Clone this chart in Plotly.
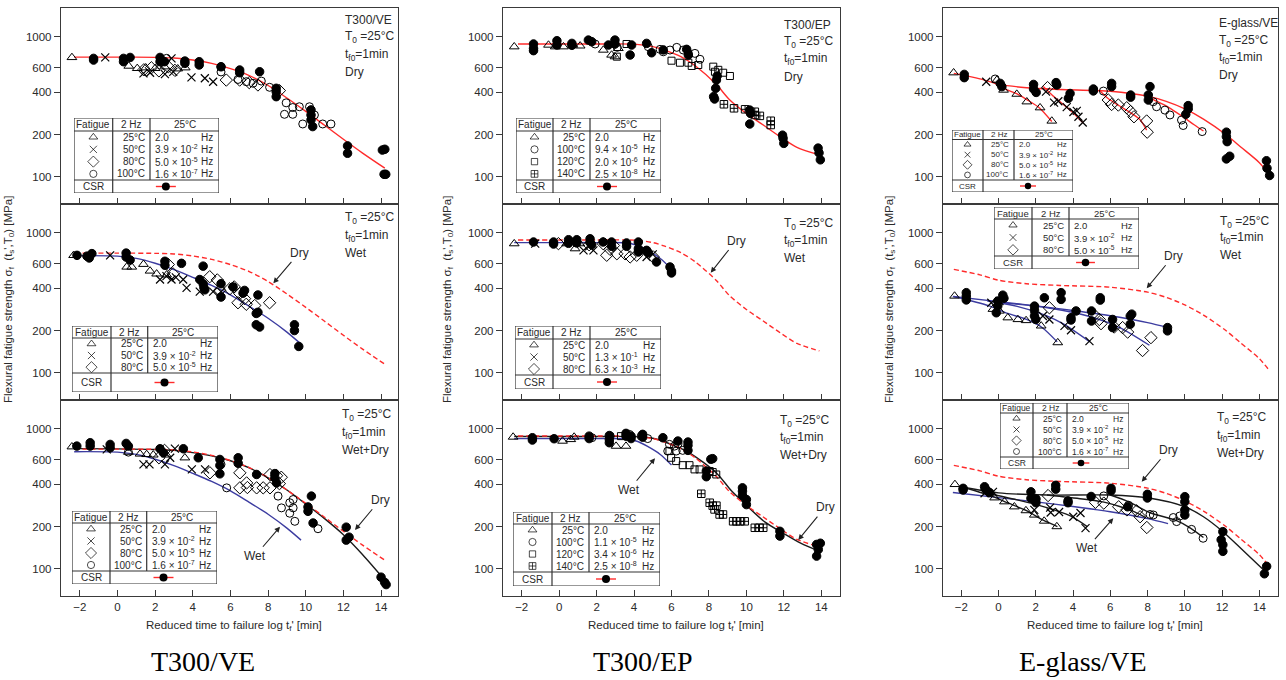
import plotly.graph_objects as go

W, H = 1286, 680

X_TICKS = [-2, 0, 2, 4, 6, 8, 10, 12, 14]
Y_TICKS = [100, 200, 400, 600, 1000]
COLUMN_NAMES = ["T300/VE", "T300/EP", "E-glass/VE"]

# ---------------- T300/VE ----------------
VE_DRY_CURVE = [(-2.3, 715), (0, 715), (2, 712), (3, 705), (4, 682), (5, 645), (6, 592), (7, 528),
                (8, 448), (9, 365), (10, 293), (11, 233), (12, 185), (13, 148), (14.2, 115)]
VE_WET_CURVE = [(-2.3, 685), (0, 680), (1, 655), (2, 605), (3, 545), (4, 480), (5, 420), (6, 360),
                (7, 298), (8, 245), (9, 195), (9.75, 160)]
VE_WETDRY_CURVE = [(-2.3, 720), (0, 718), (2, 710), (3, 700), (4, 675), (5, 640), (6, 590), (7, 525),
                   (8, 445), (9, 365), (10, 290), (11, 228), (12, 175), (13, 127), (14.3, 80)]

VE_D_TRI = [(-2.42, 711), (0.6, 617), (1.05, 594), (1.5, 600), (2.0, 594), (2.5, 610), (3.2, 590), (3.6, 600)]
VE_D_X = [(-0.65, 711), (1.38, 547), (1.73, 553), (2.52, 541), (2.96, 560), (2.87, 700), (3.93, 512),
          (4.64, 505), (5.08, 477)]
VE_D_DIA = [(1.4, 580), (1.8, 600), (2.2, 570), (2.7, 610), (3.05, 575), (5.78, 490), (6.49, 490),
            (7.0, 470), (7.46, 452), (8.6, 412)]
VE_D_CIR = [(2.6, 700), (5.5, 610), (5.5, 560), (6.4, 495), (6.84, 477), (7.2, 465), (7.64, 482), (8.08, 435),
            (8.96, 337), (9.31, 312), (8.87, 279), (9.31, 279), (9.66, 316), (9.84, 238), (10.2, 316),
            (10.46, 276), (10.9, 238), (11.34, 238)]
VE_D_CSR = [(-1.27, 700), (-1.27, 681), (0.32, 700), (0.32, 663), (0.67, 711), (2.26, 711), (2.26, 663),
            (2.5, 663), (3.58, 670), (3.58, 645), (4.34, 663), (4.34, 628), (5.5, 610), (6.49, 578),
            (6.49, 553), (7.55, 562), (8.43, 428), (8.43, 405), (8.43, 373), (10.28, 300), (10.28, 276),
            (10.28, 255), (10.37, 228), (12.22, 166), (12.22, 147), (14.07, 155), (14.2, 157), (14.16, 104),
            (14.25, 104)]

VE_W_TRI = [(-2.33, 689), (0.49, 569), (0.76, 569), (1.38, 595), (1.73, 533), (2.08, 508), (2.61, 500)]
VE_W_X = [(-0.39, 689), (2.26, 463), (2.6, 490), (2.87, 463), (3.1, 480), (3.49, 463), (3.67, 404),
          (4.37, 379), (5.08, 379), (5.5, 379)]
VE_W_DIA = [(2.7, 592), (2.95, 508), (4.9, 485), (5.3, 460), (5.43, 388), (5.96, 397), (6.2, 410), (6.49, 368),
            (6.4, 316), (6.75, 338), (6.84, 308), (7.29, 302), (8.08, 316)]
VE_W_CSR = [(-2.15, 689), (-1.62, 680), (-1.36, 709), (-1.5, 660), (0.46, 715), (0.46, 670), (0.67, 638),
            (2.52, 625), (2.52, 585), (3.4, 604), (4.55, 577), (4.37, 463), (4.55, 432), (4.59, 406),
            (4.64, 391), (5.5, 432), (5.5, 347), (6.14, 410), (6.75, 387), (6.67, 370), (7.46, 359),
            (7.37, 265), (7.46, 270), (7.37, 220), (7.55, 212), (9.4, 220), (9.4, 200), (9.63, 154)]

VE_WD_TRI = [(-2.42, 743), (0.58, 680), (1.2, 660), (1.55, 655), (1.9, 650), (2.6, 650), (3.58, 620)]
VE_WD_X = [(-0.57, 711), (1.38, 556), (1.7, 556), (2.52, 556), (2.8, 620), (3.05, 720), (3.95, 512), (4.65, 512)]
VE_WD_DIA = [(2.5, 700), (2.2, 620), (4.91, 484), (6.5, 484), (6.5, 378), (6.86, 410), (6.9, 380), (7.39, 378),
             (7.74, 378), (8.1, 378), (8.1, 470), (8.45, 462), (8.7, 450), (8.6, 405)]
VE_WD_CIR = [(0.58, 680), (5.5, 556), (5.8, 378), (8.53, 330), (8.71, 272), (9.15, 296), (9.33, 272),
             (9.15, 249), (9.42, 218), (9.33, 312), (10.65, 193)]
VE_WD_CSR = [(-2.16, 751), (-1.45, 794), (-1.45, 751), (-0.39, 772), (-0.39, 731), (0.46, 785), (0.58, 751),
             (2.26, 719), (2.44, 673), (3.5, 719), (4.29, 620), (5.44, 603), (5.44, 547), (5.44, 476),
             (6.41, 620), (6.41, 566), (7.39, 471), (8.36, 478), (8.36, 445), (8.45, 410), (10.3, 330),
             (10.12, 276), (10.12, 257), (10.39, 212), (12.15, 198), (12.15, 160), (12.3, 168), (14.0, 87),
             (14.19, 80), (14.27, 77)]

# ---------------- T300/EP ----------------
EP_DRY_CURVE = [(-2.2, 887), (0, 887), (2, 887), (4, 885), (5, 850), (5.6, 805), (6.5, 720), (7.3, 615),
                (8.4, 455), (9.1, 355), (10, 283), (10.9, 234), (11.8, 193), (12.7, 162), (13.9, 143)]
EP_WET_CURVE = [(-2.4, 849), (0, 850), (2, 850), (3.6, 845), (4.2, 810), (4.7, 750), (5.4, 655), (6.0, 550)]
EP_WETDRY_CURVE = [(-2.4, 880), (0, 880), (2, 880), (4, 878), (5, 855), (5.5, 820), (6.2, 750), (6.96, 673),
                   (8.4, 483), (9.2, 360), (10, 284), (11, 215), (12, 178), (12.9, 152), (13.9, 133)]

EP_D_TRI = [(-2.4, 848), (-0.57, 872), (-0.21, 848), (0.23, 848), (0.73, 872), (1.12, 860), (2.36, 803),
            (2.8, 740), (2.98, 720), (3.16, 825)]
EP_D_CIR = [(1.92, 887), (4.76, 848), (5.39, 812), (5.56, 780), (5.92, 803), (6.28, 839), (6.63, 803),
            (6.9, 760), (7.25, 760), (7.52, 690), (3.1, 840)]
EP_D_SQ = [(3.08, 720), (3.6, 887), (6.0, 674), (6.45, 652), (6.9, 652), (7.08, 618), (7.43, 628), (8.23, 611),
           (8.32, 562), (8.76, 553), (9.12, 524), (8.5, 580)]
EP_D_SQX = [(8.8, 329), (9.34, 308), (9.93, 303), (10.45, 291), (10.45, 276), (10.72, 272), (11.3, 251), (11.3, 234)]
EP_D_CSR = [(-1.37, 887), (-1.37, 825), (-1.37, 795), (-0.12, 936), (-0.12, 872), (0.68, 896), (0.68, 868),
            (1.56, 946), (1.74, 921), (2.63, 872), (2.98, 946), (2.98, 887), (3.87, 872), (3.79, 740),
            (4.67, 896), (4.94, 768), (5.56, 805), (6.81, 812), (6.9, 740), (8.4, 490), (8.44, 524),
            (8.36, 428), (8.25, 373), (8.3, 359), (10.18, 299), (10.22, 283), (10.18, 238), (11.93, 198),
            (11.96, 188), (12.0, 173), (13.83, 160), (13.88, 148), (13.95, 132)]

EP_W_TRI = [(-2.4, 835), (0.4, 835), (0.85, 769), (1.1, 835)]
EP_W_X = [(-1.28, 835), (1.3, 748), (1.83, 748), (1.6, 800), (4.67, 671), (5.0, 700)]
EP_W_DIA = [(-0.04, 835), (2.35, 835), (2.54, 690), (2.72, 760), (3.08, 707), (3.52, 707), (3.79, 671),
            (4.14, 690), (5.03, 671), (2.9, 810), (1.6, 820)]
EP_W_CSR = [(-1.37, 858), (-0.3, 858), (-0.3, 830), (0.5, 891), (0.5, 840), (0.94, 891), (0.94, 845),
            (1.65, 905), (1.65, 850), (1.74, 820), (2.35, 858), (2.8, 858), (2.8, 800), (3.6, 845), (3.6, 800),
            (4.23, 858), (4.23, 769), (4.23, 728), (4.67, 748), (4.76, 720), (5.2, 618), (5.92, 569),
            (6.0, 533), (6.0, 516)]

EP_WD_TRI = [(-2.46, 872), (0.18, 816), (0.62, 838), (0.8, 872), (3.04, 751), (3.57, 751)]
EP_WD_CIR = [(1.75, 862), (2.73, 885), (3.75, 911), (4.38, 885), (4.73, 850), (5.89, 773), (6.16, 751),
             (6.35, 780), (5.8, 692), (6.25, 692), (6.6, 700)]
EP_WD_SQ = [(3.3, 885), (5.89, 692), (5.98, 620), (6.25, 587), (6.6, 549), (6.96, 549), (7.23, 512), (7.5, 512),
            (8.04, 498), (8.39, 471), (8.2, 490)]
EP_WD_SQX = [(7.59, 343), (8.04, 296), (8.2, 282), (8.3, 265), (8.57, 244), (8.75, 244), (9.29, 218),
             (9.47, 218), (9.65, 218), (9.91, 218), (10.45, 196), (10.7, 196), (10.9, 196), (8.4, 282)]
EP_WD_CSR = [(-1.43, 862), (-1.43, 830), (-0.27, 848), (1.6, 885), (1.6, 850), (2.68, 894), (2.68, 838),
             (2.68, 794), (3.57, 926), (3.57, 885), (3.84, 885), (3.84, 850), (4.46, 911), (4.46, 870),
             (5.54, 862), (6.34, 816), (6.88, 803), (6.88, 760), (6.88, 700), (8.2, 611), (8.1, 605),
             (7.86, 498), (7.86, 454), (9.79, 378), (9.79, 358), (9.79, 334), (10.0, 312), (10.0, 287),
             (11.79, 185), (11.79, 171), (13.75, 149), (13.84, 137), (13.75, 123), (13.95, 152)]

# ---------------- E-glass/VE ----------------
EG_DRY_CURVE = [(-2.4, 547), (-1, 500), (0, 458), (1.5, 432), (3.3, 420), (6, 408), (8, 376), (9, 345),
                (10, 305), (11, 258), (12.2, 200), (13, 163), (14, 126), (14.55, 103)]
EG_DRY_F25 = [(-0.3, 475), (0.3, 425), (1.0, 390), (1.6, 350), (2.2, 310), (2.86, 248)]
EG_DRY_F50 = [(2.4, 440), (2.9, 380), (3.4, 335), (3.9, 295), (4.55, 242)]
EG_DRY_F80 = [(5.4, 416), (5.9, 360), (6.5, 320), (7.2, 280), (7.6, 255), (7.95, 215)]
EG_DRY_F100 = [(7.9, 383), (8.5, 345), (9.0, 320), (9.5, 290), (10.0, 262), (10.5, 235), (11.0, 212)]

EG_WET_CURVE = [(-2.45, 350), (0, 322), (2, 300), (4, 278), (6, 255), (8, 228), (9.1, 210)]
EG_WET_F25 = [(-2.4, 350), (-0.5, 300), (0.5, 265), (1.5, 240), (2.3, 212), (3.15, 166)]
EG_WET_F50 = [(-0.6, 325), (1, 298), (2.5, 258), (3.5, 222), (4.9, 166)]
EG_WET_F80 = [(0, 318), (2.7, 290), (5, 250), (6.5, 210), (8.1, 157)]

EG_WETDRY_CURVE = [(-2, 385), (0, 348), (2.6, 336), (6, 336), (8, 321), (10, 277), (11, 235), (12, 186),
                   (13, 140), (14.3, 96)]
EG_WD_F25 = [(-2, 385), (-0.5, 335), (0.5, 295), (1.5, 260), (2.4, 222), (3.16, 200)]
EG_WD_F50 = [(-0.8, 350), (1, 310), (2.5, 275), (3.8, 240), (4.76, 200)]
EG_WD_F80 = [(2.6, 336), (4.5, 315), (5.6, 300), (6.5, 278), (7.3, 255), (7.9, 232)]
EG_WD_F100 = [(6, 336), (7, 300), (8.1, 252), (9.5, 222), (10.3, 195), (11, 167)]

EG_D_TRI = [(-2.41, 553), (-0.09, 490), (0.27, 416), (0.98, 389), (1.52, 343), (2.23, 311), (2.86, 250)]
EG_D_X = [(-0.66, 477), (2.55, 405), (2.98, 338), (3.21, 346), (3.66, 314), (4.02, 290), (4.2, 295),
          (4.29, 268), (4.52, 244)]
EG_D_DIA = [(2.63, 433), (5.89, 353), (6.07, 328), (6.43, 325), (6.88, 311), (7.09, 292), (7.27, 268),
            (7.95, 250), (7.98, 208)]
EG_D_CIR = [(-0.18, 499), (5.63, 409), (8.3, 343), (8.48, 316), (8.93, 299), (9.2, 276), (9.82, 254),
            (9.91, 232), (10.93, 210)]
EG_D_CSR = [(-1.84, 538), (-1.84, 510), (0.09, 464), (0.18, 440), (1.88, 456), (1.88, 423), (2.02, 400),
            (3.09, 470), (3.13, 452), (3.84, 393), (3.75, 363), (5.09, 423), (5.09, 410), (6.07, 464),
            (6.07, 440), (7.09, 383), (7.09, 370), (8.13, 440), (8.04, 383), (8.04, 353), (10.18, 322),
            (10.18, 305), (10.05, 279), (12.23, 208), (12.23, 193), (12.27, 178), (12.23, 134), (12.41, 140),
            (14.38, 130), (14.41, 115), (14.55, 102)]

EG_W_TRI = [(-2.36, 353), (-0.3, 284), (0.05, 276), (0.5, 247), (1.04, 240), (1.48, 236), (2.29, 216), (3.18, 164)]
EG_W_X = [(-0.39, 316), (0.05, 325), (1.93, 284), (2.38, 254), (2.73, 240), (3.54, 216), (3.89, 201), (4.88, 168)]
EG_W_DIA = [(2.73, 291), (5.14, 258), (5.41, 240), (5.5, 224), (6.21, 212), (6.66, 210), (6.93, 195),
            (7.73, 144), (8.18, 178)]
EG_W_CSR = [(-1.73, 373), (-1.73, 352), (-1.73, 331), (-0.04, 325), (-0.12, 268), (-0.04, 300), (0.23, 358),
            (0.29, 340), (1.93, 299), (1.93, 280), (1.93, 254), (2.0, 240), (2.46, 343), (3.36, 373),
            (3.36, 334), (3.89, 247), (3.89, 238), (4.16, 276), (4.99, 276), (4.99, 234), (5.46, 343),
            (5.46, 330), (6.12, 240), (6.12, 210), (7.07, 254), (7.07, 222), (7.15, 262), (9.07, 210), (9.07, 199)]

EG_WD_TRI = [(-2.34, 400), (-0.21, 321), (0.32, 301), (0.85, 277), (1.47, 260), (1.92, 242), (2.45, 219), (3.13, 200)]
EG_WD_X = [(-0.75, 346), (-0.3, 354), (1.92, 263), (2.77, 273), (2.8, 252), (3.25, 254), (4.01, 235),
           (4.4, 250), (4.67, 195)]
EG_WD_DIA = [(2.66, 333), (5.2, 298), (5.65, 294), (6.45, 277), (6.89, 263), (7.42, 259), (7.6, 235), (7.96, 197)]
EG_WD_CIR = [(5.65, 331), (6.98, 284), (8.13, 244), (8.31, 242), (9.38, 232), (9.56, 217), (9.73, 238),
             (10.36, 191), (10.98, 165)]
EG_WD_CSR = [(-1.9, 375), (-1.9, 365), (-0.75, 385), (-0.66, 366), (-0.48, 350), (1.74, 354), (1.74, 318),
             (2.01, 296), (2.01, 315), (3.07, 394), (3.07, 370), (3.73, 296), (3.73, 305), (4.97, 328),
             (6.04, 375), (6.04, 360), (6.93, 277), (7.99, 340), (7.99, 320), (10.0, 327), (10.0, 301),
             (10.0, 263), (10.0, 242), (12.04, 184), (11.95, 161), (12.04, 148), (12.04, 133), (14.39, 104),
             (14.27, 92)]

# ---------------- legend tables (symbol, temperature, frequency mantissa, exponent) ----------------
TAB_VE4 = [("tri", "25°C", "2.0", ""), ("x", "50°C", "3.9", "-2"), ("dia", "80°C", "5.0", "-5"),
           ("cir", "100°C", "1.6", "-7")]
TAB_VE3 = [("tri", "25°C", "2.0", ""), ("x", "50°C", "3.9", "-2"), ("dia", "80°C", "5.0", "-5")]
TAB_EP_DRY = [("tri", "25°C", "2.0", ""), ("cir", "100°C", "9.4", "-5"), ("sq", "120°C", "2.0", "-6"),
              ("sqx", "140°C", "2.5", "-8")]
TAB_EP_WET = [("tri", "25°C", "2.0", ""), ("x", "50°C", "1.3", "-1"), ("dia", "80°C", "6.3", "-3")]
TAB_EP_WD = [("tri", "25°C", "2.0", ""), ("cir", "100°C", "1.1", "-5"), ("sq", "120°C", "3.4", "-6"),
             ("sqx", "140°C", "2.5", "-8")]
TAB_HEADER = ["Fatigue", "2 Hz", "25°C"]

T0 = "T<sub>0</sub> =25°C"
TF0 = "t<sub>f0</sub>=1min"

# ---------------- styles / geometry ----------------
RED = "#ff2b2b"
BLUE = "#3c3ca0"
BLACK = "#1a1a1a"
FONT = "Liberation Sans, Arial, Helvetica, sans-serif"
TXT = "#2a2a2a"

COLS_PX = [(61, 398), (503, 840), (943, 1278)]
ROWS_PX = [(8, 204), (204, 400), (400, 596)]
XR = [[-3.0, 14.9], [-3.0, 15.0], [-2.98, 15.0]]
YR = [1.805, 3.205]

MK = {
    "tri": dict(symbol="triangle-up-open", size=8.5),
    "x": dict(symbol="x-thin-open", size=8),
    "dia": dict(symbol="diamond-open", size=9.5),
    "cir": dict(symbol="circle-open", size=8),
    "sq": dict(symbol="square-open", size=7),
    "sqx": dict(symbol="square-cross-open", size=7.5),
    "csr": dict(symbol="circle", size=8.5),
}

PANELS = [
    dict(curves=[(VE_DRY_CURVE, RED, "solid")],
         points=[(VE_D_TRI, "tri"), (VE_D_X, "x"), (VE_D_DIA, "dia"), (VE_D_CIR, "cir"), (VE_D_CSR, "csr")],
         table=TAB_VE4, text=["T300/VE", T0, TF0, "Dry"]),
    dict(curves=[(EP_DRY_CURVE, RED, "solid")],
         points=[(EP_D_TRI, "tri"), (EP_D_CIR, "cir"), (EP_D_SQ, "sq"), (EP_D_SQX, "sqx"), (EP_D_CSR, "csr")],
         table=TAB_EP_DRY, text=["T300/EP", T0, TF0, "Dry"]),
    dict(curves=[(EG_DRY_CURVE, RED, "solid"), (EG_DRY_F25, RED, "solid"), (EG_DRY_F50, RED, "solid"),
                 (EG_DRY_F80, RED, "solid"), (EG_DRY_F100, RED, "solid")],
         points=[(EG_D_TRI, "tri"), (EG_D_X, "x"), (EG_D_DIA, "dia"), (EG_D_CIR, "cir"), (EG_D_CSR, "csr")],
         table=TAB_VE4, text=["E-glass/VE", T0, TF0, "Dry"]),
    dict(curves=[(VE_DRY_CURVE, RED, "dash"), (VE_WET_CURVE, BLUE, "solid")],
         points=[(VE_W_TRI, "tri"), (VE_W_X, "x"), (VE_W_DIA, "dia"), (VE_W_CSR, "csr")],
         table=TAB_VE3, text=[T0, TF0, "Wet"]),
    dict(curves=[(EP_DRY_CURVE, RED, "dash"), (EP_WET_CURVE, BLUE, "solid")],
         points=[(EP_W_TRI, "tri"), (EP_W_X, "x"), (EP_W_DIA, "dia"), (EP_W_CSR, "csr")],
         table=TAB_EP_WET, text=[T0, TF0, "Wet"]),
    dict(curves=[(EG_DRY_CURVE, RED, "dash"), (EG_WET_CURVE, BLUE, "solid"), (EG_WET_F25, BLUE, "solid"),
                 (EG_WET_F50, BLUE, "solid"), (EG_WET_F80, BLUE, "solid")],
         points=[(EG_W_TRI, "tri"), (EG_W_X, "x"), (EG_W_DIA, "dia"), (EG_W_CSR, "csr")],
         table=TAB_VE3, text=[T0, TF0, "Wet"]),
    dict(curves=[(VE_WET_CURVE, BLUE, "solid"), (VE_WETDRY_CURVE, BLACK, "solid"), (VE_DRY_CURVE, RED, "dash")],
         points=[(VE_WD_TRI, "tri"), (VE_WD_X, "x"), (VE_WD_DIA, "dia"), (VE_WD_CIR, "cir"), (VE_WD_CSR, "csr")],
         table=TAB_VE4, text=[T0, TF0, "Wet+Dry"]),
    dict(curves=[(EP_WET_CURVE, BLUE, "solid"), (EP_WETDRY_CURVE, BLACK, "solid"), (EP_DRY_CURVE, RED, "dash")],
         points=[(EP_WD_TRI, "tri"), (EP_WD_CIR, "cir"), (EP_WD_SQ, "sq"), (EP_WD_SQX, "sqx"), (EP_WD_CSR, "csr")],
         table=TAB_EP_WD, text=[T0, TF0, "Wet+Dry"]),
    dict(curves=[(EG_DRY_CURVE, RED, "dash"), (EG_WET_CURVE, BLUE, "solid"), (EG_WETDRY_CURVE, BLACK, "solid"),
                 (EG_WD_F25, BLACK, "solid"), (EG_WD_F50, BLACK, "solid"), (EG_WD_F80, BLACK, "solid"),
                 (EG_WD_F100, BLACK, "solid")],
         points=[(EG_WD_TRI, "tri"), (EG_WD_X, "x"), (EG_WD_DIA, "dia"), (EG_WD_CIR, "cir"), (EG_WD_CSR, "csr")],
         table=TAB_VE4, text=[T0, TF0, "Wet+Dry"]),
]

# text block position (left x px, first line y px, line step px)
TEXT_POS = [(343, 20, 17.3), (781.7, 25, 17.2), (1217, 23.3, 17.2),
            (343, 218.3, 17.2), (782, 224, 17.0), (1218, 221.7, 16.7),
            (340, 415, 17.5), (778, 420.7, 17.2), (1215, 418.3, 17.5)]

# table geometry px: L, R, T, header bottom, CSR top, B, divider1, divider2, font size, marker scale
TAB_GEOM = [(74, 219, 118, 131, 180, 193, 112.7, 150, 10, 0.9),
            (516, 661, 118, 131, 180, 193, 553, 590, 10, 0.9),
            (952, 1073, 130, 139.5, 180, 192, 983, 1014, 8, 0.72),
            (72, 218, 326, 338, 373, 392, 111, 147.7, 10, 0.9),
            (515, 661, 326, 339, 375, 389, 553, 590, 10, 0.9),
            (994, 1139, 207, 219, 256, 269, 1032, 1069, 9.5, 0.85),
            (72, 217, 511, 523, 571, 584, 110, 146.7, 10, 0.9),
            (513, 660, 512, 524, 572, 586, 552, 589, 10, 0.9),
            (1000, 1129, 403, 413, 457, 469, 1033, 1067, 8.5, 0.75)]

# arrows: label, text centre px, arrow head px
ARROWS = [("Dry", (299.3, 252.7), (273.3, 283.3)),
          ("Dry", (380, 500), (355, 530)),
          ("Wet", (255, 556), (280, 526.7)),
          ("Dry", (736, 240.7), (710.7, 272.7)),
          ("Wet", (629, 490), (655, 458.3)),
          ("Dry", (825, 507.3), (798.3, 540)),
          ("Dry", (1173.3, 256), (1146.7, 288.3)),
          ("Dry", (1168.3, 450), (1141.7, 481.7)),
          ("Wet", (1086.7, 548.3), (1113.3, 518.3))]

# ---------------- build ----------------
fig = go.Figure()
layout = dict(width=W, height=H, margin=dict(l=0, r=0, t=0, b=0), showlegend=False,
              paper_bgcolor="white", plot_bgcolor="rgba(0,0,0,0)",
              font=dict(family=FONT, size=11, color=TXT))
annotations = []
shapes = []


def px(x):
    return x / W


def py(y):
    return 1 - y / H


def axnames(k):
    return ("x" if k == 1 else f"x{k}"), ("y" if k == 1 else f"y{k}")


for p, panel in enumerate(PANELS):
    r, c = divmod(p, 3)
    k = p + 1
    xn, yn = axnames(k)
    l, rr = COLS_PX[c]
    t, b = ROWS_PX[r]
    layout["xaxis" if k == 1 else f"xaxis{k}"] = dict(
        domain=[px(l), px(rr)], range=XR[c], anchor=yn, showline=True, mirror=True, linecolor="#3a3a3a",
        linewidth=1.4, ticks="inside", ticklen=6, tickcolor="#3a3a3a", tickwidth=1.2, tickvals=X_TICKS,
        showticklabels=(r == 2), showgrid=False, zeroline=False, fixedrange=True,
        tickfont=dict(size=11.5, color=TXT, family=FONT))
    layout["yaxis" if k == 1 else f"yaxis{k}"] = dict(
        domain=[py(b), py(t)], type="log", range=YR, anchor=xn, showline=True, mirror=True,
        linecolor="#3a3a3a", linewidth=1.4, ticks="outside", ticklen=6, tickcolor="#3a3a3a", tickwidth=1.2,
        tickvals=Y_TICKS, ticktext=[str(v) for v in Y_TICKS], showgrid=False, zeroline=False, fixedrange=True,
        tickfont=dict(size=11.5, color=TXT, family=FONT))

    for pts, col, dash in panel["curves"]:
        fig.add_trace(go.Scatter(x=[q[0] for q in pts], y=[q[1] for q in pts], mode="lines",
                                 line=dict(color=col, width=1.4, dash=("5px,3px" if dash == "dash" else dash),
                                           shape="spline", smoothing=0.8),
                                 xaxis=xn, yaxis=yn, hoverinfo="skip"))
    for pts, kind in panel["points"]:
        m = dict(MK[kind])
        m.update(color="black", line=dict(color="black", width=1.2 if kind == "x" else 1.0))
        fig.add_trace(go.Scatter(x=[q[0] for q in pts], y=[q[1] for q in pts], mode="markers",
                                 marker=m, xaxis=xn, yaxis=yn, hoverinfo="skip"))

    # text block
    tx, ty, step = TEXT_POS[p]
    for i, line in enumerate(panel["text"]):
        annotations.append(dict(x=px(tx), y=py(ty + i * step), xref="paper", yref="paper", text=line,
                                showarrow=False, xanchor="left", yanchor="middle",
                                font=dict(size=12, color=TXT, family=FONT)))

    # legend table on its own overlay axes in local pixel units
    L, R, T, HB, CT, B, D1, D2, fs, ms = TAB_GEOM[p]
    tk = 10 + p
    txn, tyn = f"x{tk}", f"y{tk}"
    layout[f"xaxis{tk}"] = dict(domain=[px(L), px(R)], range=[L, R], visible=False, fixedrange=True, anchor=tyn)
    layout[f"yaxis{tk}"] = dict(domain=[py(B), py(T)], range=[B, T], visible=False, fixedrange=True, anchor=txn)
    sl = dict(color="#333333", width=1.2)
    shapes.append(dict(type="rect", xref=txn, yref=tyn, x0=L, x1=R, y0=T, y1=B, line=sl, fillcolor="white",
                       layer="below"))
    for (x0, y0, x1, y1) in [(L, HB, R, HB), (L, CT, R, CT), (D1, T, D1, B), (D2, T, D2, CT)]:
        shapes.append(dict(type="line", xref=txn, yref=tyn, x0=x0, x1=x1, y0=y0, y1=y1, line=sl))
    hy = (T + HB) / 2
    for txt, xc in zip(TAB_HEADER, [(L + D1) / 2, (D1 + D2) / 2, (D2 + R) / 2]):
        annotations.append(dict(x=xc, y=hy, xref=txn, yref=tyn, text=txt, showarrow=False,
                                xanchor="center", yanchor="middle", font=dict(size=fs, color=TXT, family=FONT)))
    rows = panel["table"]
    rh = (CT - HB) / len(rows)
    sym_x, sym_y, sym_s, sym_z = [], [], [], []
    for i, (sym, temp, mant, ex) in enumerate(rows):
        yc = HB + rh * (i + 0.5)
        sym_x.append((L + D1) / 2)
        sym_y.append(yc)
        sym_s.append(MK[sym]["symbol"])
        sym_z.append(MK[sym]["size"] * ms)
        freq = mant if ex == "" else f"{mant} × 10<sup>{ex}</sup>"
        annotations.append(dict(x=D2 - 3, y=yc, xref=txn, yref=tyn, text=temp, showarrow=False,
                                xanchor="right", yanchor="middle", font=dict(size=fs, color=TXT, family=FONT)))
        annotations.append(dict(x=D2 + 3, y=yc, xref=txn, yref=tyn, text=freq, showarrow=False,
                                xanchor="left", yanchor="middle", font=dict(size=fs, color=TXT, family=FONT)))
        annotations.append(dict(x=R - 4, y=yc, xref=txn, yref=tyn, text="Hz", showarrow=False,
                                xanchor="right", yanchor="middle", font=dict(size=fs, color=TXT, family=FONT)))
    fig.add_trace(go.Scatter(x=sym_x, y=sym_y, mode="markers", xaxis=txn, yaxis=tyn, hoverinfo="skip",
                             marker=dict(symbol=sym_s, size=sym_z, color="black",
                                         line=dict(color="black", width=1.0))))
    cy = (CT + B) / 2
    annotations.append(dict(x=(L + D1) / 2, y=cy, xref=txn, yref=tyn, text="CSR", showarrow=False,
                            xanchor="center", yanchor="middle", font=dict(size=fs, color=TXT, family=FONT)))
    mid = (D1 + R) / 2
    half = 10 * ms / 0.9
    fig.add_trace(go.Scatter(x=[mid - half, mid + half], y=[cy, cy], mode="lines", xaxis=txn, yaxis=tyn,
                             hoverinfo="skip", line=dict(color=RED, width=1.4)))
    fig.add_trace(go.Scatter(x=[mid], y=[cy], mode="markers", xaxis=txn, yaxis=tyn, hoverinfo="skip",
                             marker=dict(symbol="circle", size=8 * ms / 0.9, color="black")))

# arrows with labels
for label, (tx, ty), (hx, hy) in ARROWS:
    annotations.append(dict(x=px(hx), y=py(hy), xref="paper", yref="paper", text=label, showarrow=True,
                            ax=tx - hx, ay=ty - hy, axref="pixel", ayref="pixel", arrowhead=2, arrowsize=1,
                            arrowwidth=1.1, arrowcolor="#222", standoff=0, startstandoff=1,
                            font=dict(size=12, color=TXT, family=FONT)))

# axis titles and column captions
YTITLE = "Flexural fatigue strength σ<sub>f</sub>  (t<sub>s</sub>',T<sub>0</sub>) [MPa]"
XTITLE = "Reduced time to failure log t<sub>f</sub>' [min]"
for c, (l, rr) in enumerate(COLS_PX):
    annotations.append(dict(x=px([9, 448, 890][c]), y=py(300), xref="paper", yref="paper", text=YTITLE,
                            textangle=-90, showarrow=False, xanchor="center", yanchor="middle",
                            font=dict(size=11.5, color=TXT, family=FONT)))
    annotations.append(dict(x=px((l + rr) / 2 + 4), y=py(626), xref="paper", yref="paper", text=XTITLE,
                            showarrow=False, xanchor="center", yanchor="middle",
                            font=dict(size=11.5, color=TXT, family=FONT)))
    annotations.append(dict(x=px([203, 643, 1083][c]), y=py(661), xref="paper", yref="paper",
                            text=COLUMN_NAMES[c], showarrow=False, xanchor="center", yanchor="middle",
                            font=dict(size=28, color="black", family="Liberation Serif, Times New Roman, serif")))

layout["annotations"] = annotations
layout["shapes"] = shapes
fig.update_layout(**layout)
fig.write_html("out.html", config={"displayModeBar": False},
               post_script="document.body.style.margin='0px';document.body.style.overflow='hidden';")
